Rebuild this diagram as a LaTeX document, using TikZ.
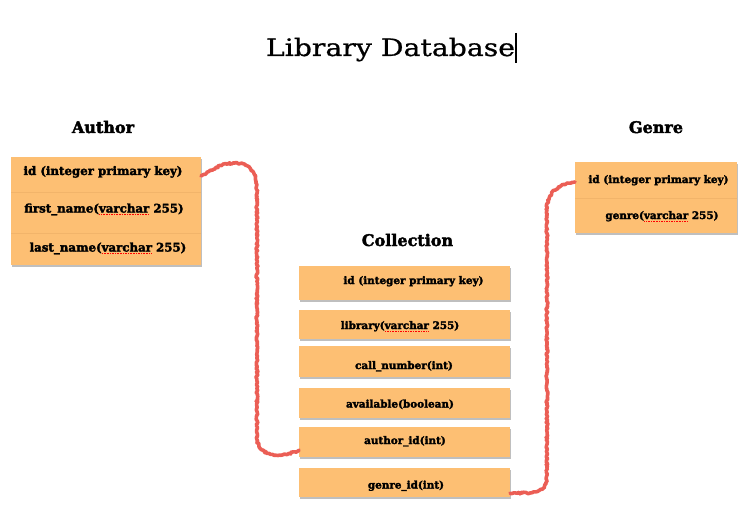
\documentclass[tikz,border=0pt]{standalone}
\usepackage{fontspec}
\setmainfont{DejaVu Serif}[BoldFeatures={FakeBold=2.5}]
\newfontfamily\titlefont{DejaVu Serif}[FakeStretch=1.18, FakeBold=0.8]
\usetikzlibrary{shadows,decorations.pathmorphing}
\definecolor{boxfill}{HTML}{FDBF73}
\definecolor{rowline}{HTML}{F2B46A}
\definecolor{linkred}{HTML}{EB5E55}
\newcommand\spellerr[1]{\setbox0=\hbox{#1}\rlap{\raisebox{-2.6pt}{\color{red}\hbox to \wd0{\xleaders\hbox to 1.6pt{\hss\rule{0.9pt}{0.9pt}\hss}\hfill}}}\box0\relax}
\tikzset{
  tbl/.style={rectangle, fill=boxfill, inner sep=0pt, outer sep=0pt,
    drop shadow={shadow xshift=0.8pt, shadow yshift=-2.2pt, opacity=0.25, fill=black}},
  rowbox/.style={rectangle, inner sep=0pt, outer sep=0pt},
  heading/.style={font=\bfseries\fontsize{16}{19}\selectfont, inner sep=0pt, anchor=base},
  bigrow/.style={font=\bfseries\fontsize{11.8}{14}\selectfont, inner sep=0pt, anchor=base},
  smallrow/.style={font=\bfseries\fontsize{10.4}{12}\selectfont, inner sep=0pt, anchor=base},
  divider/.style={rowline, line width=0.6pt},
  link/.style={linkred, line width=3.6pt, line join=round, line cap=round,
    decorate, decoration={random steps, segment length=1.4pt, amplitude=0.9pt}}
}
\begin{document}
\begin{tikzpicture}[x=1pt,y=-1pt]
\useasboundingbox (0,0) rectangle (743,513);
% title
\node[font=\titlefont\fontsize{24}{28}\selectfont, inner sep=0pt, anchor=base] (title) at (390.5,56) {Library Database};
\coordinate (cur1) at (516,33);
\coordinate (cur2) at (516,63);
\draw[line width=1.1pt] (cur1) -- (cur2);

% Author
\node[heading] (authorh) at (103,133) {Author};
\node[tbl, minimum width=190pt, minimum height=108pt] (author) at (106,211) {};
\node[rowbox, minimum width=190pt, minimum height=35pt] (a1) at (106,174.5) {};
\node[rowbox, minimum width=190pt, minimum height=41pt] (a2) at (106,212.5) {};
\node[rowbox, minimum width=190pt, minimum height=32pt] (a3) at (106,249) {};
\draw[divider] (a1.south west) -- (a1.south east);
\draw[divider] (a2.south west) -- (a2.south east);
\node[bigrow] (a1t) at (103,175) {id (integer primary key)};
\node[bigrow] (a2t) at (104,212.5) {first\_name(\spellerr{varchar} 255)};
\node[bigrow] (a3t) at (108,251.5) {last\_name(\spellerr{varchar} 255)};

% Genre
\node[heading] (genreh) at (656,133) {Genre};
\node[tbl, minimum width=162pt, minimum height=71pt] (genre) at (656,197.5) {};
\node[rowbox, minimum width=162pt, minimum height=36pt] (g1) at (656,180) {};
\node[rowbox, minimum width=162pt, minimum height=35pt] (g2) at (656,215.5) {};
\draw[divider] (g1.south west) -- (g1.south east);
\node[smallrow] (g1t) at (658.5,183) {id (integer primary key)};
\node[smallrow] (g2t) at (662,219) {genre(\spellerr{varchar} 255)};

% Collection
\node[heading] (collh) at (407.5,246) {Collection};
\node[tbl, minimum width=211pt, minimum height=34pt] (c1) at (404.5,283) {};
\node[tbl, minimum width=211pt, minimum height=29pt] (c2) at (404.5,324.5) {};
\node[tbl, minimum width=211pt, minimum height=31pt] (c3) at (404.5,361.5) {};
\node[tbl, minimum width=211pt, minimum height=30pt] (c4) at (404.5,403) {};
\node[tbl, minimum width=211pt, minimum height=30pt] (c5) at (404.5,442) {};
\node[tbl, minimum width=211pt, minimum height=29pt] (c6) at (404.5,482.5) {};
\node[smallrow] (c1t) at (413.5,284) {id (integer primary key)};
\node[smallrow] (c2t) at (400,329) {library(\spellerr{varchar} 255)};
\node[smallrow] (c3t) at (404,369) {call\_number(int)};
\node[smallrow] (c4t) at (400,407.5) {available(boolean)};
\node[smallrow] (c5t) at (405,444) {author\_id(int)};
\node[smallrow] (c6t) at (406,488.5) {genre\_id(int)};

% connectors
\coordinate (ae) at ([yshift=-1.5pt]a1.east);
\coordinate (ce) at ([yshift=-8pt]c5.west);
\draw[link] (ae) .. controls (215,168) and (222,163) .. (235,163)
  .. controls (250,163) and (257,172) .. (257,192) -- (257,435)
  .. controls (257,450) and (265,455) .. (280,455)
  .. controls (288,455) and (294,452) .. (ce);
\coordinate (ge) at ([yshift=-10.5pt]c6.east);
\coordinate (gw) at ([yshift=-2pt]g1.west);
\draw[link] (ge) -- (530,493) .. controls (542,492) and (547,487) .. (547,475)
  -- (547,210) .. controls (547,195) and (555,185) .. (gw);
\end{tikzpicture}
\end{document}
